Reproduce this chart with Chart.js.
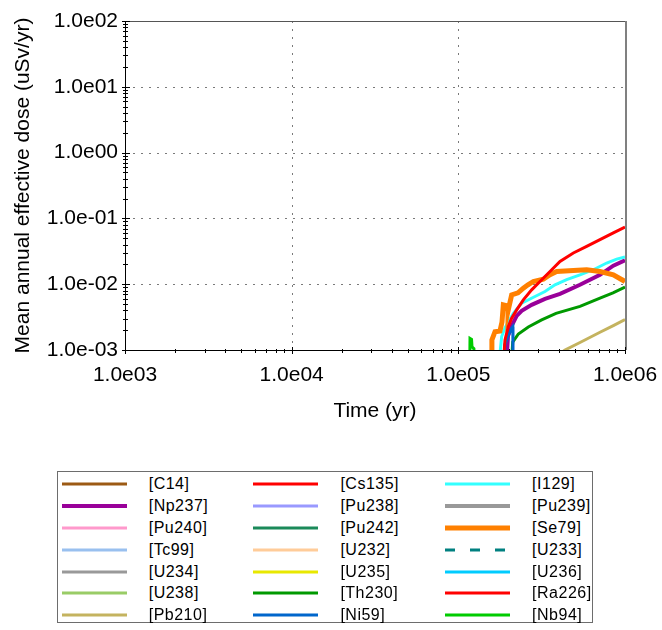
<!DOCTYPE html>
<html>
<head>
<meta charset="utf-8">
<title>Mean annual effective dose</title>
<script src="https://cdn.jsdelivr.net/npm/chart.js@4.4.1/dist/chart.umd.min.js"></script>
<style>
  html, body { margin: 0; padding: 0; background: #fff; }
  #wrap { position: relative; width: 662px; height: 630px; overflow: hidden; }
  #chart { position: absolute; left: 0; top: 0; }
  #legend {
    position: absolute; left: 57px; top: 471px; width: 536px; height: 152px;
    box-sizing: border-box; border: 1px solid #6d6d6d; background: #fff;
    font-family: "Liberation Sans", Arial, sans-serif; font-size: 16px;
    letter-spacing: 0.5px; color: #000;
  }
  #legend svg { position: absolute; overflow: visible; }
  #legend span { position: absolute; white-space: nowrap; line-height: 20px; }
</style>
</head>
<body>
<div id="wrap">
  <canvas id="chart" width="662" height="630"></canvas>
  <div id="legend"></div>
</div>
<script>
// ---- Data: time (yr) vs mean annual effective dose (uSv/yr) ----
const nuclides = ['C14', 'Np237', 'Pu240', 'Tc99', 'U234', 'U238', 'Pb210',
                  'Cs135', 'Pu238', 'Pu242', 'U232', 'U235', 'Th230', 'Ni59',
                  'I129', 'Pu239', 'Se79', 'U233', 'U236', 'Ra226', 'Nb94'];

const xTickRange = [1e3, 1e6];
const yTickRange = [1e-3, 1e2];

const np237 = [[193000, 5e-4], [198600, 1.63e-3], [208900, 2.32e-3], [223900, 3.30e-3],
               [239900, 3.93e-3], [275400, 4.85e-3], [331100, 5.99e-3], [407400, 7.14e-3],
               [537000, 9.79e-3], [707900, 1.39e-2], [851100, 1.91e-2], [1e6, 2.31e-2]];

const pb210 = [[400000, 8.5e-4], [436500, 1.0e-3], [537000, 1.30e-3], [707900, 1.86e-3],
               [851100, 2.35e-3], [1e6, 2.9e-3]];

const th230 = [[207000, 5e-4], [212000, 1.32e-3], [229100, 1.75e-3], [263000, 2.24e-3],
               [316200, 2.87e-3], [385500, 3.60e-3], [537000, 4.60e-3], [707900, 6.14e-3],
               [847200, 7.39e-3], [1e6, 9.03e-3]];

const ni59 = [[188000, 5e-4], [190000, 1.2e-3], [200000, 1.7e-3], [208000, 2.1e-3],
              [212300, 2.25e-3], [212800, 5e-4]];

const i129 = [[173800, 5e-4], [182000, 1.60e-3], [190500, 2.16e-3], [213800, 3.62e-3],
              [239900, 5.15e-3], [288400, 6.50e-3], [331100, 7.74e-3], [380200, 9.79e-3],
              [446700, 1.17e-2], [537000, 1.39e-2], [645700, 1.66e-2], [776200, 2.10e-2],
              [891300, 2.41e-2], [1e6, 2.59e-2]];

const se79 = [[158500, 5e-4], [159000, 1.42e-3], [166000, 1.90e-3], [177800, 1.95e-3],
              [182800, 2.67e-3], [186200, 4.85e-3], [195900, 4.69e-3], [198600, 3.9e-3],
              [208900, 6.89e-3], [228000, 7.39e-3], [245500, 8.72e-3], [261800, 9.79e-3],
              [281800, 1.10e-2], [323600, 1.19e-2], [354800, 1.39e-2], [389000, 1.56e-2],
              [489800, 1.62e-2], [588800, 1.66e-2], [707900, 1.56e-2], [851100, 1.39e-2],
              [1e6, 1.10e-2]];

const ra226 = [[185000, 5e-4], [190500, 1.42e-3], [199500, 2.27e-3], [208900, 3.04e-3],
               [223900, 4.07e-3], [245500, 5.78e-3], [275400, 8.2e-3], [309000, 1.10e-2],
               [354800, 1.56e-2], [407400, 2.22e-2], [489800, 2.98e-2], [588800, 3.76e-2],
               [707900, 4.75e-2], [851100, 6.01e-2], [1e6, 7.41e-2]];

const nb94 = [[117000, 5e-4], [117500, 1.5e-3], [120000, 1.45e-3], [120800, 1.12e-3],
              [124000, 1.05e-3], [125000, 5e-4]];

// Nuclides without an entry stay below the plotted dose range.
const seriesData = { Np237: np237, Pb210: pb210, Th230: th230, Ni59: ni59,
                     I129: i129, Se79: se79, Ra226: ra226, Nb94: nb94 };

// ---- Styles ----
const colors = {
  C14: '#9c5a14', Np237: '#990099', Pu240: '#ff99cc', Tc99: '#99c0ef', U234: '#999999',
  U238: '#99cc66', Pb210: '#c4b35f', Cs135: '#ff0000', Pu238: '#9999ff', Pu242: '#1b8a5a',
  U232: '#ffcc99', U235: '#e8e800', Th230: '#009900', Ni59: '#0066cc', I129: '#33ffff',
  Pu239: '#999999', Se79: '#ff8000', U233: '#008080', U236: '#00ccff', Ra226: '#ff0000',
  Nb94: '#00cc00'
};
const widths = { Np237: 4, Pu239: 4, Se79: 5 };
const dashes = { U233: [10, 15] };

const FONT = '"Liberation Sans", Arial, sans-serif';

function isDecade(v) {
  const e = Math.log10(v);
  return Math.abs(e - Math.round(e)) < 1e-9;
}
function expLabel(v) {
  const e = Math.round(Math.log10(v));
  return '1.0e' + (e < 0 ? '-' : '') + String(Math.abs(e)).padStart(2, '0');
}

const datasets = nuclides.map((name, i) => ({
  label: '[' + name + ']',
  data: (seriesData[name] || []).map(p => ({ x: p[0], y: p[1] })),
  borderColor: colors[name],
  backgroundColor: colors[name],
  borderWidth: widths[name] || 3,
  borderDash: dashes[name] || [],
  pointRadius: 0,
  fill: false,
  tension: 0,
  clip: 0,
  order: -i
}));

// Dotted decade grid, plot frame and crossing tick marks
const framePlugin = {
  id: 'frame',
  beforeDatasetsDraw(chart) {
    const { ctx, chartArea: a, scales: { x, y } } = chart;
    ctx.save();
    ctx.strokeStyle = '#7a7a7a';
    ctx.lineWidth = 1;
    ctx.setLineDash([2, 6]);
    ctx.beginPath();
    for (let e = Math.round(Math.log10(x.min)) + 1; e < Math.round(Math.log10(x.max)); e++) {
      const px = Math.round(x.getPixelForValue(Math.pow(10, e))) + 0.5;
      ctx.moveTo(px, a.top); ctx.lineTo(px, a.bottom);
    }
    for (let e = Math.round(Math.log10(y.min)) + 1; e < Math.round(Math.log10(y.max)); e++) {
      const py = Math.round(y.getPixelForValue(Math.pow(10, e))) + 0.5;
      ctx.moveTo(a.left, py); ctx.lineTo(a.right, py);
    }
    ctx.stroke();
    ctx.restore();
  },
  afterDraw(chart) {
    const { ctx, chartArea: a, scales: { x, y } } = chart;
    ctx.save();
    ctx.setLineDash([]);
    // top and right frame
    ctx.strokeStyle = '#555';
    ctx.lineWidth = 1;
    ctx.beginPath();
    ctx.moveTo(a.left, Math.round(a.top) + 0.5); ctx.lineTo(a.right, Math.round(a.top) + 0.5);
    ctx.stroke();
    ctx.strokeStyle = '#808080';
    ctx.lineWidth = 2;
    ctx.beginPath();
    ctx.moveTo(Math.round(a.right) + 1, a.top); ctx.lineTo(Math.round(a.right) + 1, a.bottom);
    ctx.stroke();
    // tick marks
    ctx.strokeStyle = '#000';
    ctx.lineWidth = 1;
    ctx.beginPath();
    const bx = Math.round(a.bottom);
    for (let e = Math.round(Math.log10(x.min)); e <= Math.round(Math.log10(x.max)); e++) {
      for (let m = 1; m <= 9; m++) {
        const v = m * Math.pow(10, e);
        if (v < x.min * 0.999 || v > x.max * 1.001) continue;
        const px = Math.round(x.getPixelForValue(v)) + 0.5;
        const major = m === 1;
        ctx.moveTo(px, bx - (major ? 3 : 1));
        ctx.lineTo(px, bx + (major ? 4 : 3));
      }
    }
    const lx = Math.round(a.left);
    for (let e = Math.round(Math.log10(y.min)); e <= Math.round(Math.log10(y.max)); e++) {
      for (let m = 1; m <= 9; m++) {
        const v = m * Math.pow(10, e);
        if (v < y.min * 0.999 || v > y.max * 1.001) continue;
        const py = Math.round(y.getPixelForValue(v)) + 0.5;
        const major = m === 1;
        ctx.moveTo(lx - (major ? 3 : 2), py);
        ctx.lineTo(lx + (major ? 5 : 3), py);
      }
    }
    ctx.stroke();
    ctx.restore();
  }
};

new Chart(document.getElementById('chart'), {
  type: 'line',
  data: { datasets },
  options: {
    responsive: false,
    animation: false,
    layout: { padding: { left: 0, top: 21, right: 37, bottom: 206 } },
    plugins: { legend: { display: false }, tooltip: { enabled: false } },
    scales: {
      x: {
        type: 'logarithmic',
        min: xTickRange[0], max: xTickRange[1],
        grid: { display: false, drawTicks: false },
        border: { display: true, color: '#000', width: 1 },
        ticks: {
          autoSkip: false, maxRotation: 0, padding: 13, color: '#000',
          font: { family: FONT, size: 21 },
          callback: v => isDecade(v) ? expLabel(v) : ''
        },
        title: {
          display: true, text: 'Time (yr)', color: '#000',
          font: { family: FONT, size: 21 }, padding: { top: 0, bottom: 0 }
        },
        afterFit(s) { s.height = 74; s.paddingLeft = 0; s.paddingRight = 0; }
      },
      y: {
        type: 'logarithmic',
        min: yTickRange[0], max: yTickRange[1],
        grid: { display: false, drawTicks: false },
        border: { display: true, color: '#000', width: 1 },
        ticks: {
          autoSkip: false, padding: 7, color: '#000',
          font: { family: FONT, size: 21 },
          callback: v => isDecade(v) ? expLabel(v) : ''
        },
        title: {
          display: true, text: 'Mean annual effective dose (uSv/yr)', color: '#000',
          font: { family: FONT, size: 21 }, padding: { top: 11, bottom: 0 }
        },
        afterFit(s) { s.width = 125; s.paddingTop = 0; s.paddingBottom = 0; }
      }
    }
  },
  plugins: [framePlugin]
});

// Legend: three columns, filled top to bottom
(function buildLegend() {
  const box = document.getElementById('legend');
  const rows = 7, colPitch = 191.7, rowPitch = 21.8;
  const SVGNS = 'http://www.w3.org/2000/svg';
  datasets.forEach((ds, i) => {
    const col = Math.floor(i / rows), row = i % rows;
    const cy = 12.3 + row * rowPitch;
    const lineLeft = 3.7 + col * colPitch;
    const svg = document.createElementNS(SVGNS, 'svg');
    svg.setAttribute('width', '66');
    svg.setAttribute('height', '10');
    svg.style.left = lineLeft + 'px';
    svg.style.top = (cy - 5) + 'px';
    const ln = document.createElementNS(SVGNS, 'line');
    ln.setAttribute('x1', '0'); ln.setAttribute('x2', '65');
    ln.setAttribute('y1', '5'); ln.setAttribute('y2', '5');
    ln.setAttribute('stroke', ds.borderColor);
    ln.setAttribute('stroke-width', ds.borderWidth);
    if (ds.borderDash.length) ln.setAttribute('stroke-dasharray', ds.borderDash.join(' '));
    svg.appendChild(ln);
    box.appendChild(svg);
    const t = document.createElement('span');
    t.textContent = ds.label;
    t.style.left = (90.7 + col * colPitch) + 'px';
    t.style.top = (cy - 10) + 'px';
    box.appendChild(t);
  });
})();
</script>
</body>
</html>
